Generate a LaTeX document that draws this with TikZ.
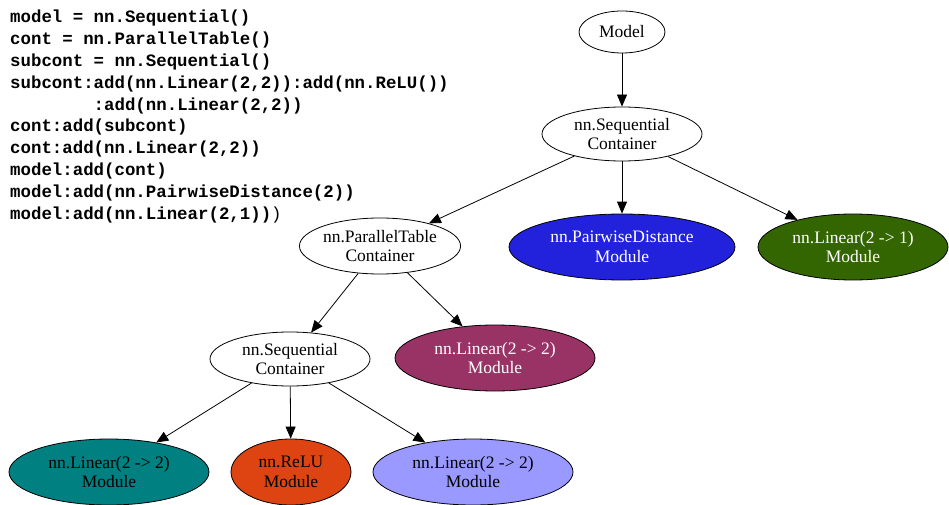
\documentclass[tikz,border=0pt]{standalone}
\usepackage{fontspec}
\setmainfont{Liberation Serif}
\newfontfamily\codefont{Liberation Mono}
\usetikzlibrary{shapes.geometric,arrows.meta}
\definecolor{cblue}{HTML}{2222DD}
\definecolor{cgreen}{HTML}{336600}
\definecolor{cmaroon}{HTML}{993366}
\definecolor{cteal}{HTML}{008080}
\definecolor{corange}{HTML}{DD4411}
\definecolor{clav}{HTML}{9999FF}
\begin{document}
\begin{tikzpicture}[x=1pt,y=-1pt,
  nd/.style={ellipse,draw=black,line width=0.8pt,inner sep=0pt,align=center,
    font=\fontsize{17.5}{19.5}\selectfont},
  edge/.style={line width=0.8pt,-{Triangle[length=12pt,width=10pt]}},
  codeline/.style={anchor=base west,inner sep=0pt,font=\codefont\bfseries\fontsize{17.4}{20}\selectfont}]
\useasboundingbox (0,0) rectangle (949,505);
% code
\node[codeline] (c1) at (10,23) {model = nn.Sequential()};
\node[codeline] (c2) at (10,44.8) {cont = nn.ParallelTable()};
\node[codeline] (c3) at (10,66.6) {subcont = nn.Sequential()};
\node[codeline] (c4) at (10,88.4) {subcont:add(nn.Linear(2,2)):add(nn.ReLU())};
\node[codeline] (c5) at (10,110.2) {\ \ \ \ \ \ \ \ :add(nn.Linear(2,2))};
\node[codeline] (c6) at (10,132) {cont:add(subcont)};
\node[codeline] (c7) at (10,153.8) {cont:add(nn.Linear(2,2))};
\node[codeline] (c8) at (10,175.6) {model:add(cont)};
\node[codeline] (c9) at (10,197.4) {model:add(nn.PairwiseDistance(2))};
\node[codeline] (c10) at (10,219.2) {model:add(nn.Linear(2,1)){\mdseries)}};
% nodes
\node[nd,minimum width=86pt,minimum height=42pt] (model) at (622,32) {Model};
\node[nd,minimum width=160pt,minimum height=54pt] (seq) at (622,134) {nn.Sequential\\Container};
\node[nd,minimum width=160pt,minimum height=56pt] (par) at (380,246) {nn.ParallelTable\\Container};
\node[nd,fill=cblue,text=white,minimum width=226pt,minimum height=66pt] (pd) at (622,247) {nn.PairwiseDistance\\Module};
\node[nd,fill=cgreen,text=white,minimum width=190pt,minimum height=66pt] (l21) at (853,247) {nn.Linear(2 -> 1)\\Module};
\node[nd,minimum width=160pt,minimum height=54pt] (seq2) at (290,359) {nn.Sequential\\Container};
\node[nd,fill=cmaroon,text=white,minimum width=200pt,minimum height=66pt] (lm) at (495,358) {nn.Linear(2 -> 2)\\Module};
\node[nd,fill=cteal,minimum width=200pt,minimum height=66pt] (lt) at (109,472) {nn.Linear(2 -> 2)\\Module};
\node[nd,fill=corange,minimum width=120pt,minimum height=66pt] (relu) at (291,472) {nn.ReLU\\Module};
\node[nd,fill=clav,minimum width=200pt,minimum height=66pt] (ll) at (473,472) {nn.Linear(2 -> 2)\\Module};
% edges
\draw[edge] (model) -- (seq);
\draw[edge] (seq) -- (par);
\draw[edge] (seq) -- (pd);
\draw[edge] (seq) -- (l21);
\draw[edge] (par) -- (seq2);
\draw[edge] (par) -- (lm);
\draw[edge] (seq2) -- (lt);
\draw[edge] (seq2) -- (relu);
\draw[edge] (seq2) -- (ll);
\end{tikzpicture}
\end{document}
